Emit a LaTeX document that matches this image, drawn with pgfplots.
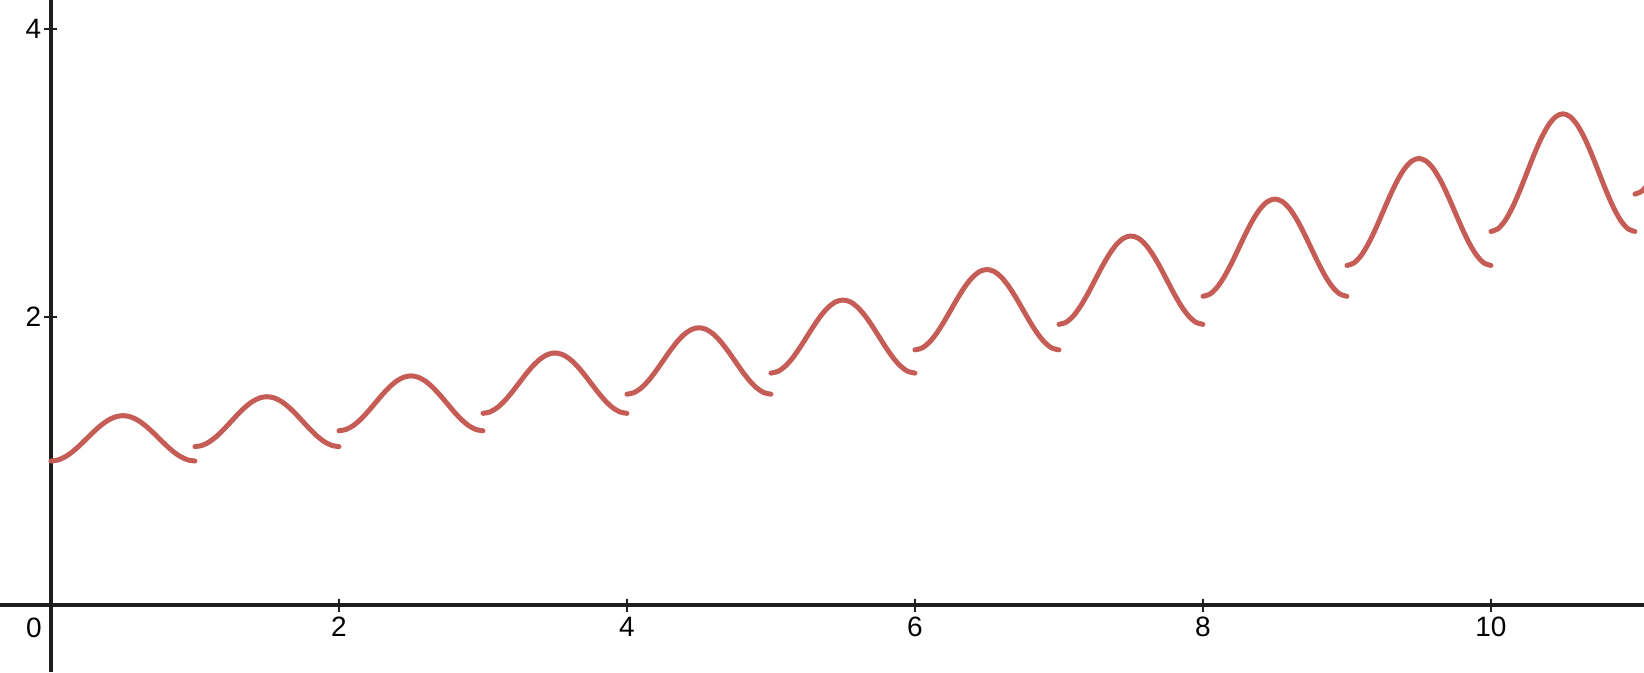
\documentclass[border=0pt]{standalone}
\usepackage{fontspec}
\setmainfont{Liberation Sans}
\usepackage{pgfplots}
\pgfplotsset{compat=1.18}
\definecolor{curvered}{RGB}{197,92,86}
\definecolor{axisblack}{RGB}{30,30,30}
\pgfplotsset{seg/.style={curvered,line width=2.5pt,line cap=round,line join=round,smooth,no markers}}

\begin{document}
\begin{tikzpicture}
\begin{axis}[
  scale only axis,width=822pt,height=336pt,
  xmin=-0.354,xmax=11.063,ymin=-0.465,ymax=4.201,
  axis lines=middle,axis line style={-,axisblack,line width=1.6pt},
  xtick={2,4,6,8,10},ytick={2,4},
  tick align=center,major tick length=6.5pt,
  tick style={axisblack,line width=1.3pt},
  tick label style={font=\fontsize{14}{16}\selectfont,inner sep=0pt},
  xticklabel style={anchor=north,yshift=-2.5pt},
  yticklabel style={anchor=east,xshift=-1.5pt},
  /pgf/number format/assume math mode=true,
  clip=true]
% each piece: 1.1^n times a bump, read at steps of 0.05
\addplot[seg] coordinates {(0,1)(0.05,1.00771)(0.1,1.03008)(0.15,1.06492)(0.2,1.10883)(0.25,1.1575)(0.3,1.20617)(0.35,1.25008)(0.4,1.28492)(0.45,1.30729)(0.5,1.315)(0.55,1.30729)(0.6,1.28492)(0.65,1.25008)(0.7,1.20617)(0.75,1.1575)(0.8,1.10883)(0.85,1.06492)(0.9,1.03008)(0.95,1.00771)(1,1)};
\addplot[seg] coordinates {(1,1.1)(1.05,1.10848)(1.1,1.13309)(1.15,1.17141)(1.2,1.21971)(1.25,1.27325)(1.3,1.32679)(1.35,1.37509)(1.4,1.41341)(1.45,1.43802)(1.5,1.4465)(1.55,1.43802)(1.6,1.41341)(1.65,1.37509)(1.7,1.32679)(1.75,1.27325)(1.8,1.21971)(1.85,1.17141)(1.9,1.13309)(1.95,1.10848)(2,1.1)};
\addplot[seg] coordinates {(2,1.21)(2.05,1.21933)(2.1,1.2464)(2.15,1.28855)(2.2,1.34168)(2.25,1.40058)(2.3,1.45947)(2.35,1.5126)(2.4,1.55475)(2.45,1.58182)(2.5,1.59115)(2.55,1.58182)(2.6,1.55475)(2.65,1.5126)(2.7,1.45947)(2.75,1.40058)(2.8,1.34168)(2.85,1.28855)(2.9,1.2464)(2.95,1.21933)(3,1.21)};
\addplot[seg] coordinates {(3,1.331)(3.05,1.34126)(3.1,1.37104)(3.15,1.41741)(3.2,1.47585)(3.25,1.54063)(3.3,1.60541)(3.35,1.66386)(3.4,1.71023)(3.45,1.74)(3.5,1.75027)(3.55,1.74)(3.6,1.71023)(3.65,1.66386)(3.7,1.60541)(3.75,1.54063)(3.8,1.47585)(3.85,1.41741)(3.9,1.37104)(3.95,1.34126)(4,1.331)};
\addplot[seg] coordinates {(4,1.4641)(4.05,1.47539)(4.1,1.50814)(4.15,1.55915)(4.2,1.62344)(4.25,1.6947)(4.3,1.76595)(4.35,1.83024)(4.4,1.88125)(4.45,1.914)(4.5,1.92529)(4.55,1.914)(4.6,1.88125)(4.65,1.83024)(4.7,1.76595)(4.75,1.6947)(4.8,1.62344)(4.85,1.55915)(4.9,1.50814)(4.95,1.47539)(5,1.4641)};
\addplot[seg] coordinates {(5,1.61051)(5.05,1.62293)(5.1,1.65895)(5.15,1.71506)(5.2,1.78578)(5.25,1.86417)(5.3,1.94255)(5.35,2.01327)(5.4,2.06938)(5.45,2.1054)(5.5,2.11782)(5.55,2.1054)(5.6,2.06938)(5.65,2.01327)(5.7,1.94255)(5.75,1.86417)(5.8,1.78578)(5.85,1.71506)(5.9,1.65895)(5.95,1.62293)(6,1.61051)};
\addplot[seg] coordinates {(6,1.77156)(6.05,1.78522)(6.1,1.82485)(6.15,1.88657)(6.2,1.96436)(6.25,2.05058)(6.3,2.1368)(6.35,2.21459)(6.4,2.27631)(6.45,2.31594)(6.5,2.3296)(6.55,2.31594)(6.6,2.27631)(6.65,2.21459)(6.7,2.1368)(6.75,2.05058)(6.8,1.96436)(6.85,1.88657)(6.9,1.82485)(6.95,1.78522)(7,1.77156)};
\addplot[seg] coordinates {(7,1.94872)(7.05,1.96374)(7.1,2.00734)(7.15,2.07523)(7.2,2.1608)(7.25,2.25564)(7.3,2.35049)(7.35,2.43605)(7.4,2.50395)(7.45,2.54755)(7.5,2.56257)(7.55,2.54755)(7.6,2.50395)(7.65,2.43605)(7.7,2.35049)(7.75,2.25564)(7.8,2.1608)(7.85,2.07523)(7.9,2.00734)(7.95,1.96374)(8,1.94872)};
\addplot[seg] coordinates {(8,2.14359)(8.05,2.16012)(8.1,2.20807)(8.15,2.28275)(8.2,2.37688)(8.25,2.48121)(8.3,2.58553)(8.35,2.67966)(8.4,2.75434)(8.45,2.80229)(8.5,2.81882)(8.55,2.80229)(8.6,2.75434)(8.65,2.67966)(8.7,2.58553)(8.75,2.48121)(8.8,2.37688)(8.85,2.28275)(8.9,2.20807)(8.95,2.16012)(9,2.14359)};
\addplot[seg] coordinates {(9,2.35795)(9.05,2.37613)(9.1,2.42888)(9.15,2.51103)(9.2,2.61457)(9.25,2.72933)(9.3,2.84409)(9.35,2.94763)(9.4,3.02978)(9.45,3.08253)(9.5,3.1007)(9.55,3.08253)(9.6,3.02978)(9.65,2.94763)(9.7,2.84409)(9.75,2.72933)(9.8,2.61457)(9.85,2.51103)(9.9,2.42888)(9.95,2.37613)(10,2.35795)};
\addplot[seg] coordinates {(10,2.59374)(10.05,2.61374)(10.1,2.67176)(10.15,2.76213)(10.2,2.87602)(10.25,3.00225)(10.3,3.12849)(10.35,3.24238)(10.4,3.33275)(10.45,3.39078)(10.5,3.41077)(10.55,3.39078)(10.6,3.33275)(10.65,3.24238)(10.7,3.12849)(10.75,3.00225)(10.8,2.87602)(10.85,2.76213)(10.9,2.67176)(10.95,2.61374)(11,2.59374)};
\addplot[seg] coordinates {(11,2.85312)(11.05,2.87512)(11.1,2.93894)(11.15,3.03834)};
\node[anchor=north east,inner sep=0pt,font=\fontsize{14}{16}\selectfont] at (axis cs:0,0) [xshift=-4.5pt,yshift=-6.5pt] {0};
\coordinate (sw) at (rel axis cs:0,0);
\coordinate (ne) at (rel axis cs:1,1);
\end{axis}
\pgfresetboundingbox
\path (sw) rectangle (ne);
\end{tikzpicture}
\end{document}
